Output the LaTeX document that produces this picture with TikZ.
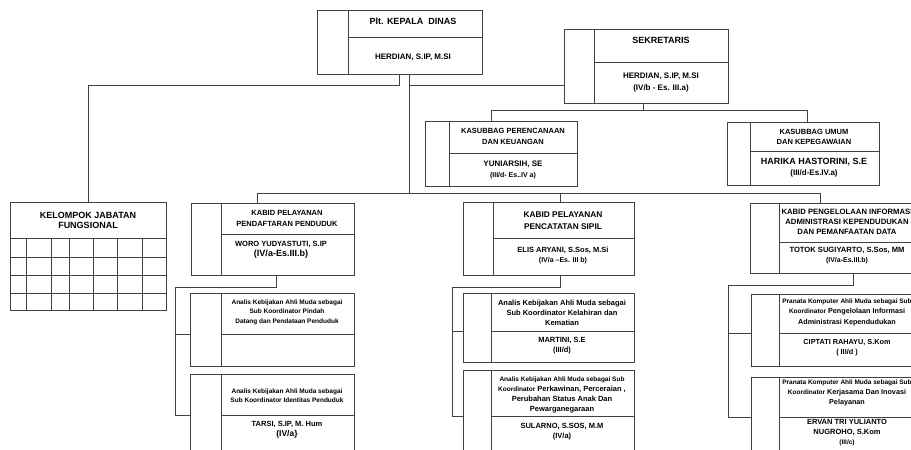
\documentclass[tikz,border=0pt]{standalone}
\usepackage{fontspec}
\setmainfont{Liberation Sans}

\tikzset{
  line/.style={draw=black!75, line width=0.8pt},
  orgbox/.style={line, inner sep=0pt, outer sep=0pt},
  txt/.style 2 args={font=\bfseries\fontsize{#1}{#2}\selectfont, align=center, inner sep=0pt, text=black},
}

% box: name, left, top, right, bottom, inner x, divider y
\newcommand{\jabatan}[7]{%
  \node[orgbox, anchor=north west, minimum width={(#4)-(#2)}, minimum height={(#3)-(#5)}] (#1) at (#2,#3) {};
  \draw[line] (#6,#3) -- (#6,#5);
  \draw[line] (#6,#7) -- (#4,#7);
  \coordinate (#1-d) at (#2,#7);
}
\newcommand{\fsz}[2]{\fontsize{#1}{#2}\selectfont}

\begin{document}
\begin{tikzpicture}[x=1pt, y=1pt]
  \fill[white] (0,0) rectangle (911,-450);
  \path[use as bounding box] (0,0) rectangle (911,-450);
  \clip (0,0) rectangle (911,-450);

  % Top level
  \jabatan{kadis}{317}{-10}{482}{-74}{348}{-37}
  \node[txt={9}{10}] (kadis-t) at (413,-21) {Plt. KEPALA\ \ DINAS};
  \node[txt={8}{10}] (kadis-n) at (413,-57) {HERDIAN, S.IP, M.SI};

  \jabatan{sek}{564}{-29}{728}{-103}{594}{-62}
  \node[txt={9}{10}] (sek-t) at (661,-40) {SEKRETARIS};
  \node[txt={8}{12}] (sek-n) at (661,-83) {HERDIAN, S.IP, M.SI\\(IV/b - Es. III.a)};

  % Kasubbag
  \jabatan{kasub1}{425}{-121}{577}{-186}{449}{-153}
  \node[txt={7.5}{11}] (kasub1-t) at (513,-136) {KASUBBAG PERENCANAAN\\DAN KEUANGAN};
  \node[txt={8}{11}] (kasub1-n) at (513,-170) {YUNIARSIH, SE\\{\fsz{7}{11}(III/d- Es..IV a)}};

  \jabatan{kasub2}{727}{-122}{879}{-185}{750}{-151}
  \node[txt={7.5}{10}] (kasub2-t) at (814,-137) {KASUBBAG UMUM\\DAN KEPEGAWAIAN};
  \node[txt={9}{11}] (kasub2-n) at (814,-168) {HARIKA HASTORINI, S.E\\{\fsz{8}{11}(III/d-Es.IV.a)}};

  % Kelompok jabatan fungsional
  \node[orgbox, anchor=north west, minimum width=156, minimum height=108] (kjf) at (10,-202) {};
  \draw[line] (10,-238) -- (166,-238);
  \foreach \gx in {26,51,69,93,117,142}
    \draw[line] (\gx,-238) -- (\gx,-310);
  \foreach \gy in {-257,-275,-293}
    \draw[line] (10,\gy) -- (166,\gy);
  \node[txt={9}{10}] (kjf-t) at (88,-220) {KELOMPOK JABATAN\\FUNGSIONAL};

  % Kabid
  \jabatan{kabid1}{191}{-203}{354}{-275}{221}{-234}
  \node[txt={7.5}{11}] (kabid1-t) at (287,-218) {KABID PELAYANAN\\PENDAFTARAN PENDUDUK};
  \node[txt={7.5}{10}] (kabid1-n) at (281,-250) {WORO YUDYASTUTI, S.IP\\{\fsz{9}{10}(IV/a-Es.III.b)}};

  \jabatan{kabid2}{463}{-202}{634}{-275}{493}{-238}
  \node[txt={8.3}{12}] (kabid2-t) at (563,-221) {KABID PELAYANAN\\PENCATATAN SIPIL};
  \node[txt={7.5}{10}] (kabid2-n) at (563,-256) {ELIS ARYANI, S.Sos, M.Si\\{\fsz{7}{10}(IV/a --Es. III b)}};

  \jabatan{kabid3}{750}{-203}{915}{-273}{779}{-242}
  \node[txt={7.7}{10}] (kabid3-t) at (847,-222) {KABID PENGELOLAAN INFORMASI\\ADMINISTRASI KEPENDUDUKAN\\DAN PEMANFAATAN DATA};
  \node[txt={7.6}{10}] (kabid3-n) at (847,-256) {TOTOK SUGIYARTO, S.Sos, MM\\{\fsz{7}{10}(IV/a-Es.III.b)}};

  % Sub koordinator
  \jabatan{s11}{190}{-293}{354}{-366}{221}{-334}
  \node[txt={6.5}{9.5}] (s11-t) at (287,-312) {Analis Kebijakan Ahli Muda sebagai\\Sub Koordinator Pindah\\Datang dan Pendataan Penduduk};

  \jabatan{s12}{190}{-374}{354}{-480}{221}{-415}
  \node[txt={6.5}{9}] (s12-t) at (287,-396) {Analis Kebijakan Ahli Muda sebagai\\Sub Koordinator Identitas Penduduk};
  \node[txt={7.5}{9.5}] (s12-n) at (287,-430) {TARSI, S.IP, M. Hum\\{\fsz{8.5}{9.5}(IV/a\}}};

  \jabatan{s21}{463}{-293}{634}{-362}{491}{-331}
  \node[txt={7.5}{10}] (s21-t) at (562,-313) {Analis Kebijakan Ahli Muda sebagai\\Sub Koordinator Kelahiran dan\\Kematian};
  \node[txt={7.5}{10}] (s21-n) at (562,-346) {MARTINI, S.E\\(III/d)};

  \jabatan{s22}{463}{-370}{634}{-480}{491}{-416}
  \node[txt={7.5}{10}] (s22-t) at (562,-395) {{\fsz{6.5}{10}Analis Kebijakan Ahli Muda sebagai Sub}\\{\fsz{6.5}{10}Koordinator} Perkawinan, Perceraian ,\\Perubahan Status Anak Dan\\Pewarganegaraan};
  \node[txt={7.5}{10}] (s22-n) at (562,-432) {SULARNO, S.SOS, M.M\\(IV/a)};

  \jabatan{s31}{751}{-294}{915}{-366}{779}{-333}
  \node[txt={7.2}{10.5}] (s31-t) at (847,-312) {{\fsz{6.5}{10.5}Pranata Komputer Ahli Muda sebagai Sub}\\{\fsz{6.5}{10.5}Koordinator} Pengelolaan Informasi\\Administrasi Kependudukan};
  \node[txt={7.3}{10}] (s31-n) at (847,-348) {CIPTATI RAHAYU, S.Kom\\( III/d )};

  \jabatan{s32}{751}{-377}{915}{-480}{779}{-417}
  \node[txt={7.2}{10}] (s32-t) at (847,-393) {{\fsz{6.5}{10}Pranata Komputer Ahli Muda sebagai Sub}\\{\fsz{6.5}{10}Koordinator} Kerjasama Dan Inovasi\\Pelayanan};
  \node[txt={7.5}{10}] (s32-n) at (847,-433) {ERVAN TRI YULIANTO\\NUGROHO, S.Kom\\{\fsz{6.5}{10}(III/c)}};

  % Connectors
  \draw[line] (kadis.south) -- ++(0,-11) -| (kjf.north);
  \draw[line] ([xshift=9.5pt]kadis.south) |- ([yshift=-19pt]sek.west);
  \draw[line] ([xshift=9.5pt]kadis.south) -- ++(0,-119) coordinate (trunk);
  \draw[line] ([xshift=-15.5pt]kabid1.north) |- (trunk);
  \draw[line] ([xshift=11.5pt]kabid2.north) |- (trunk);
  \draw[line] ([xshift=-12.5pt]kabid3.north) |- (trunk);

  \draw[line] ([xshift=-3pt]sek.south) -- ++(0,-7) coordinate (sekbar);
  \draw[line] ([xshift=-10pt]kasub1.north) |- (sekbar);
  \draw[line] ([xshift=4pt]kasub2.north) |- (sekbar);

  \draw[line] ([xshift=3.5pt]kabid1.south) -- ++(0,-12) -| ([xshift=-15pt]s12-d) -- (s12-d);
  \draw[line] ([xshift=-15pt]s11-d) -- (s11-d);
  \draw[line] ([xshift=11.5pt]kabid2.south) -- ++(0,-12) -| ([xshift=-11pt]s22-d) -- (s22-d);
  \draw[line] ([xshift=-11pt]s21-d) -- (s21-d);
  \draw[line] ([xshift=20.5pt]kabid3.south) -- ++(0,-12) -| ([xshift=-23pt]s32-d) -- (s32-d);
  \draw[line] ([xshift=-23pt]s31-d) -- (s31-d);
\end{tikzpicture}
\end{document}
